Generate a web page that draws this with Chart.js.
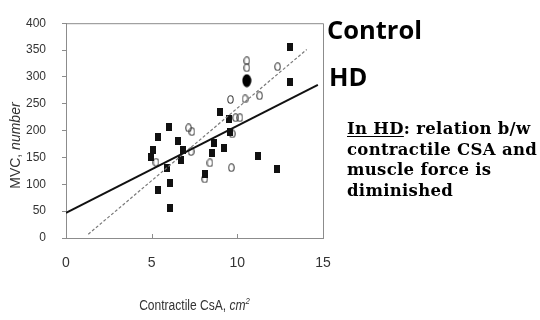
<!DOCTYPE html>
<html>
<head>
<meta charset="utf-8">
<script src="https://cdn.jsdelivr.net/npm/chart.js@4.4.0/dist/chart.umd.min.js"></script>
<style>
    html, body { margin: 0; padding: 0; background: #fff; }
    .wrap { position: relative; width: 540px; height: 320px; overflow: hidden; }
    #chart { position: absolute; left: 0; top: 0; }
    .tag { position: absolute; font-family: "Open Sans", sans-serif; font-weight: 700; font-size: 25.5px; line-height: 30px; color: #000; }
    .note { position: absolute; left: 347px; top: 119px; width: 200px; font-family: "DejaVu Serif", serif; font-weight: 700; font-size: 16.5px; letter-spacing: 0.3px; line-height: 20.7px; color: #000; white-space: nowrap; }
    .note u { text-decoration-thickness: 1px; text-underline-offset: 2px; }
</style>
</head>
<body>
<div class="wrap">
    <canvas id="chart" width="540" height="320"></canvas>
    <div class="tag" style="left:327px; top:14px;">Control</div>
    <div class="tag" style="left:329px; top:61px;">HD</div>
    <div class="note"><u>In HD</u>: relation b/w<br>contractile CSA and<br>muscle force is<br>diminished</div>
</div>
<script>
// axis ticks
const xTickValues = [0, 5, 10, 15];
const yTickValues = [0, 50, 100, 150, 200, 250, 300, 350, 400];

// HD patients (filled squares)
const hdX = [13.1, 13.1, 9.0, 9.5, 6.0, 9.6, 5.35, 6.55, 8.65, 9.25, 6.8, 5.1, 4.95, 6.7, 8.5, 5.9, 11.2, 12.3, 8.1, 5.35, 6.05, 6.05];
const hdY = [355, 290, 235, 221, 206, 197, 189, 181, 176, 167, 163, 164, 150, 146, 158, 131, 153, 128, 119, 90, 102, 56];

// controls (open circles)
const ctrlX = [10.55, 10.55, 12.35, 11.3, 10.45, 9.6, 9.9, 10.15, 7.15, 7.35, 9.7, 5.25, 7.3, 8.4, 9.65, 8.1];
const ctrlY = [330, 317, 319, 265, 259, 258, 224, 224, 205, 198, 194, 141, 161, 140, 131, 110];

// big black marker
const markX = [10.55];
const markY = [293];

// regression lines (end points)
const hdFitX = [0, 14.7];
const hdFitY = [47, 285];
const ctrlFitX = [1.3, 14.05];
const ctrlFitY = [7, 351];

function pairs(xs, ys) {
    return xs.map((x, i) => ({ x: x, y: ys[i] }));
}

function makeMarker(w, h, draw) {
    const c = document.createElement('canvas');
    c.width = w;
    c.height = h;
    draw(c.getContext('2d'), w, h);
    return c;
}

const squareMark = makeMarker(6, 8, (g, w, h) => {
    g.fillStyle = '#111';
    g.fillRect(0, 0, w, h);
});
const ringMark = makeMarker(7, 9, (g, w, h) => {
    g.strokeStyle = '#444';
    g.lineWidth = 1.1;
    g.beginPath();
    g.ellipse(w / 2, h / 2, w / 2 - 0.8, h / 2 - 0.8, 0, 0, Math.PI * 2);
    g.stroke();
});
const bigDot = makeMarker(10, 14, (g, w, h) => {
    g.fillStyle = '#000';
    g.beginPath();
    g.ellipse(w / 2, h / 2, w / 2 - 0.5, h / 2 - 0.5, 0, 0, Math.PI * 2);
    g.fill();
});

const axisFont = '"Liberation Sans", Arial, sans-serif';

// draws mixed-style text centred on (cx, cy), squeezed horizontally by sx
function drawParts(ctx, parts, cx, cy, sx) {
    const widths = parts.map(p => {
        ctx.font = p.font;
        return ctx.measureText(p.t).width;
    });
    const total = widths.reduce((a, b) => a + b, 0);
    ctx.save();
    ctx.translate(cx, cy);
    ctx.scale(sx, 1);
    let x = -total / 2;
    parts.forEach((p, i) => {
        ctx.font = p.font;
        ctx.fillText(p.t, x, p.dy || 0);
        x += widths[i];
    });
    ctx.restore();
}

// frame, inside x ticks and axis titles
const decorations = {
    id: 'decorations',
    afterDraw(chart) {
        const { ctx, chartArea } = chart;
        const xs = chart.scales.x;
        ctx.save();
        ctx.strokeStyle = '#8c8c8c';
        ctx.lineWidth = 1;
        ctx.beginPath();
        ctx.moveTo(chartArea.left, chartArea.top + 0.5);
        ctx.lineTo(chartArea.right + 0.5, chartArea.top + 0.5);
        ctx.lineTo(chartArea.right + 0.5, chartArea.bottom);
        ctx.stroke();

        ctx.beginPath();
        xTickValues.forEach(v => {
            const px = Math.round(xs.getPixelForValue(v)) + 0.5;
            ctx.moveTo(px, chartArea.bottom);
            ctx.lineTo(px, chartArea.bottom - 4);
        });
        ctx.stroke();

        ctx.fillStyle = '#333';
        ctx.textBaseline = 'middle';
        drawParts(ctx, [
            { t: 'Contractile CsA, ', font: '14px ' + axisFont },
            { t: 'cm', font: 'italic 14px ' + axisFont },
            { t: '2', font: 'italic 9px ' + axisFont, dy: -5 }
        ], (chartArea.left + chartArea.right) / 2, chartArea.bottom + 68, 0.86);

        ctx.translate(chartArea.left - 50, (chartArea.top + chartArea.bottom) / 2 + 15);
        ctx.rotate(-Math.PI / 2);
        drawParts(ctx, [
            { t: 'MVC, ', font: '14px ' + axisFont },
            { t: 'number', font: 'italic 14px ' + axisFont }
        ], 0, 0, 1);
        ctx.restore();
    }
};

new Chart(document.getElementById('chart'), {
    type: 'scatter',
    data: {
        datasets: [
            {
                label: 'HD fit',
                data: pairs(hdFitX, hdFitY),
                showLine: true,
                borderColor: '#111',
                borderWidth: 2,
                pointRadius: 0
            },
            {
                label: 'Control fit',
                data: pairs(ctrlFitX, ctrlFitY),
                showLine: true,
                borderColor: '#7a7a7a',
                borderWidth: 1.2,
                borderDash: [3, 2],
                pointRadius: 0
            },
            {
                label: 'HD',
                data: pairs(hdX, hdY),
                pointStyle: squareMark
            },
            {
                label: 'Control',
                data: pairs(ctrlX, ctrlY),
                pointStyle: ringMark
            },
            {
                label: 'Marker',
                data: pairs(markX, markY),
                pointStyle: bigDot
            }
        ]
    },
    options: {
        responsive: false,
        animation: false,
        layout: { padding: { top: 15, right: 217, left: 0, bottom: 0 } },
        plugins: {
            legend: { display: false },
            tooltip: { enabled: false }
        },
        scales: {
            x: {
                type: 'linear',
                min: 0,
                max: 15,
                afterBuildTicks: s => { s.ticks = xTickValues.map(v => ({ value: v })); },
                afterFit: s => { s.height = 82; },
                grid: { drawOnChartArea: false, drawTicks: false },
                border: { color: '#8c8c8c' },
                ticks: {
                    padding: 17,
                    color: '#333',
                    font: { family: axisFont, size: 14 }
                }
            },
            y: {
                type: 'linear',
                min: 0,
                max: 400,
                afterBuildTicks: s => { s.ticks = yTickValues.map(v => ({ value: v })); },
                afterFit: s => { s.width = 66; },
                grid: { drawOnChartArea: false, drawTicks: true, tickLength: 4, color: '#8c8c8c' },
                border: { color: '#8c8c8c' },
                ticks: {
                    padding: 16,
                    color: '#333',
                    font: { family: axisFont, size: 12 }
                }
            }
        }
    },
    plugins: [decorations]
});
</script>
</body>
</html>
